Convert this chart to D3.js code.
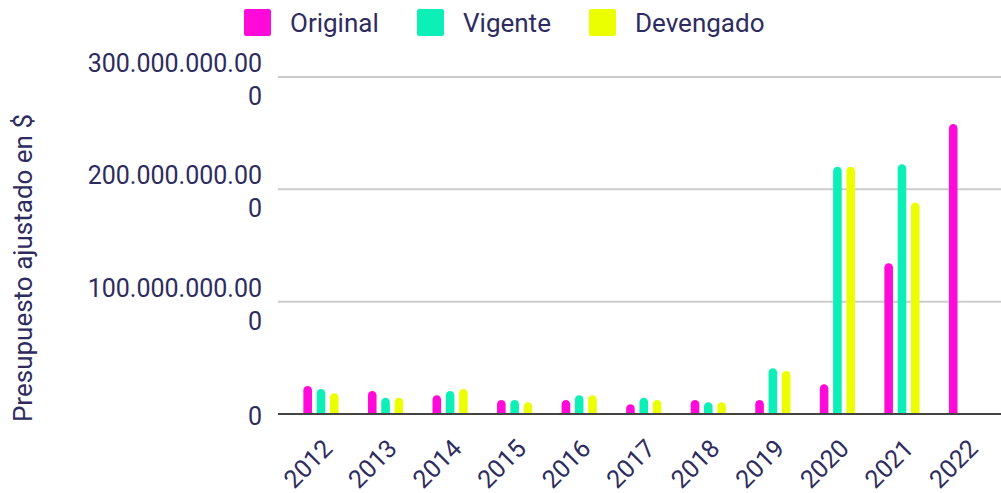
<!DOCTYPE html>
<meta charset="utf-8">
<style>
  body { margin: 0; background: #fff; font-family: Roboto, sans-serif; }
  svg text { fill: #2e2c5e; }
</style>
<body>
<svg width="1001" height="493"></svg>
<script src="https://cdn.jsdelivr.net/npm/d3@7"></script>
<script>

var years = ["2012", "2013", "2014", "2015", "2016", "2017", "2018", "2019", "2020", "2021", "2022"];
var original  = [24.9e9, 20.5e9, 16.6e9, 12.5e9, 12.5e9, 8.6e9, 12.5e9, 12.5e9, 26.4e9, 134.2e9, 258.2e9];
var vigente   = [22.3e9, 14.5e9, 20.5e9, 12.5e9, 16.6e9, 14.5e9, 10.4e9, 40.7e9, 220.2e9, 222.3e9, null];
var devengado = [18.4e9, 14.5e9, 22.3e9, 10.4e9, 16.6e9, 12.5e9, 10.4e9, 38.3e9, 220.2e9, 188.2e9, null];
var seriesNames = ["Original", "Vigente", "Devengado"];
var colors = ["#ff0ad9", "#0cf0b7", "#ebff00"];
var yTicks = [0, 100e9, 200e9, 300e9];

var svg = d3.select("svg");

var x = d3.scaleBand().domain(years).range([288.7, 998.8]);
var y = d3.scaleLinear().domain([0, 300e9]).range([414, 77]);
var offset = d3.scalePoint().domain(seriesNames).range([-13.3, 13.3]);
var color = d3.scaleOrdinal().domain(seriesNames).range(colors);
var barW = 8.6;

var values = { "Original": original, "Vigente": vigente, "Devengado": devengado };

var locale = d3.formatLocale({ decimal: ",", thousands: ".", grouping: [3], currency: ["$", ""] });
var fmt = locale.format(",d");

// gridlines
svg.append("g")
  .selectAll("line")
  .data(yTicks.filter(function(d) { return d > 0; }))
  .enter().append("line")
    .attr("x1", 278).attr("x2", 1001)
    .attr("y1", function(d) { return y(d); })
    .attr("y2", function(d) { return y(d); })
    .style("stroke", "#cccccc")
    .style("stroke-width", "2px");

// y tick labels, wrapped like the original (14 chars per line)
var yl = svg.append("g")
  .selectAll("text")
  .data(yTicks)
  .enter().append("text")
    .attr("text-anchor", "end")
    .style("font-size", "25px");

yl.each(function(d) {
  var s = fmt(d);
  var lines = [];
  for (var i = 0; i < s.length; i += 14) lines.push(s.slice(i, i + 14));
  var t = d3.select(this);
  var base = lines.length > 1 ? y(d) - 5 : y(d) + 11;
  lines.forEach(function(l, i) {
    t.append("tspan").attr("x", 262).attr("y", base + i * 33).text(l);
  });
});

// axis title
svg.append("text")
  .attr("transform", "translate(32,268) rotate(-90)")
  .attr("text-anchor", "middle")
  .style("font-size", "26px")
  .text("Presupuesto ajustado en $");

// bars
function barPath(cx, v) {
  var x0 = cx - barW / 2, x1 = cx + barW / 2, r = barW / 2;
  var top = y(v), bot = y(0);
  if (bot - top < r) r = Math.max(bot - top, 0);
  return "M" + x0 + "," + bot + "V" + (top + r) +
    "A" + r + "," + r + " 0 0 1 " + x1 + "," + (top + r) +
    "V" + bot + "Z";
}

var groups = svg.append("g")
  .selectAll("g")
  .data(years)
  .enter().append("g");

groups.selectAll("path")
  .data(function(yr, i) {
    return seriesNames.map(function(s) { return { year: yr, series: s, value: values[s][i] }; })
      .filter(function(d) { return d.value != null; });
  })
  .enter().append("path")
    .attr("d", function(d) { return barPath(x(d.year) + x.bandwidth() / 2 + offset(d.series), d.value); })
    .style("fill", function(d) { return color(d.series); });

// baseline
svg.append("line")
  .attr("x1", 278).attr("x2", 1001)
  .attr("y1", y(0)).attr("y2", y(0))
  .style("stroke", "#444444")
  .style("stroke-width", "2px");

// x labels
svg.append("g")
  .selectAll("text")
  .data(years)
  .enter().append("text")
    .attr("text-anchor", "end")
    .attr("transform", function(d) {
      return "translate(" + (x(d) + x.bandwidth() / 2 + 13) + "," + (y(0) + 36) + ") rotate(-45)";
    })
    .style("font-size", "25px")
    .text(function(d) { return d; });

// legend
var legX = [244, 417, 589];
var leg = svg.append("g")
  .selectAll("g")
  .data(seriesNames)
  .enter().append("g")
    .attr("transform", function(d, i) { return "translate(" + legX[i] + ",9)"; });

leg.append("rect")
  .attr("width", 27).attr("height", 27).attr("rx", 2)
  .style("fill", function(d) { return color(d); });

leg.append("text")
  .attr("x", 46).attr("y", 23)
  .style("font-size", "26px")
  .text(function(d) { return d; });

</script>
</body>
